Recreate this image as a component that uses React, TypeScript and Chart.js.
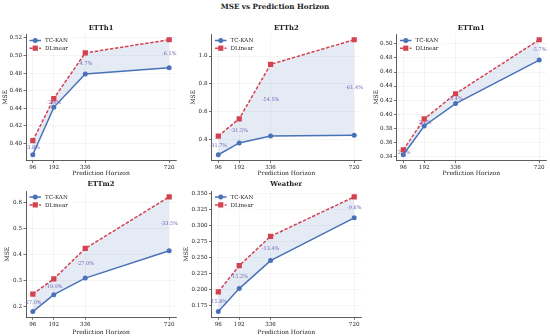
import React, { useEffect, useRef } from "react";
import { Chart, registerables } from "chart.js";

Chart.register(...registerables);

// ---------------- data ----------------
const horizons = [96, 192, 336, 720];

const etth1TcKan = [0.387, 0.441, 0.479, 0.486];
const etth1DLinear = [0.403, 0.451, 0.503, 0.518];
const etth1Pct = ["-3.8%", "-2.4%", "-4.7%", "-6.1%"];
const etth1Ticks = [0.4, 0.42, 0.44, 0.46, 0.48, 0.5, 0.52];

const etth2TcKan = [0.289, 0.374, 0.424, 0.429];
const etth2DLinear = [0.423, 0.548, 0.94, 1.117];
const etth2Pct = ["-31.7%", "-31.5%", "-54.5%", "-61.4%"];
const etth2Ticks = [0.4, 0.6, 0.8, 1.0];

const ettm1TcKan = [0.342, 0.383, 0.415, 0.477];
const ettm1DLinear = [0.349, 0.393, 0.429, 0.506];
const ettm1Pct = ["-2.1%", "-2.6%", "-3.4%", "-5.7%"];
const ettm1Ticks = [0.34, 0.36, 0.38, 0.4, 0.42, 0.44, 0.46, 0.48, 0.5];

const ettm2TcKan = [0.18, 0.245, 0.309, 0.414];
const ettm2DLinear = [0.247, 0.306, 0.423, 0.622];
const ettm2Pct = ["-27.0%", "-19.9%", "-27.0%", "-33.5%"];
const ettm2Ticks = [0.2, 0.3, 0.4, 0.5, 0.6];

const weatherTcKan = [0.165, 0.201, 0.245, 0.312];
const weatherDLinear = [0.196, 0.237, 0.283, 0.345];
const weatherPct = ["-15.8%", "-15.2%", "-13.4%", "-9.6%"];
const weatherTicks = [0.175, 0.2, 0.225, 0.25, 0.275, 0.3, 0.325, 0.35];

// ---------------- styles ----------------
const FONT = '"DejaVu Serif", "Liberation Serif", serif';
const BLUE = "#4a72b8";
const RED = "#d3434f";
const FILL = "rgba(74,114,184,0.14)";
const PCT_COLOR = "#6e5fb8";
const TEXT = "#222222";

type Panel = {
  title: string;
  tc: number[];
  dl: number[];
  pct: string[];
  ticks: number[];
  dec: number;
  left: number;
  top: number;
  w: number;
  h: number;
  axisW: number;
  padR: number;
  yTitleX: number;
  row: number;
};

const panels: Panel[] = [
  { title: "ETTh1", tc: etth1TcKan, dl: etth1DLinear, pct: etth1Pct, ticks: etth1Ticks, dec: 2, left: 0, top: 0, w: 183, h: 178, axisW: 26, padR: 7, yTitleX: 5.7, row: 0 },
  { title: "ETTh2", tc: etth2TcKan, dl: etth2DLinear, pct: etth2Pct, ticks: etth2Ticks, dec: 1, left: 183, top: 0, w: 185, h: 178, axisW: 28.5, padR: 7, yTitleX: 10.3, row: 0 },
  { title: "ETTm1", tc: ettm1TcKan, dl: ettm1DLinear, pct: ettm1Pct, ticks: ettm1Ticks, dec: 2, left: 368, top: 0, w: 182, h: 178, axisW: 28.5, padR: 3, yTitleX: 8.7, row: 0 },
  { title: "ETTm2", tc: ettm2TcKan, dl: ettm2DLinear, pct: ettm2Pct, ticks: ettm2Ticks, dec: 1, left: 0, top: 178, w: 183, h: 158, axisW: 26, padR: 7, yTitleX: 7.3, row: 1 },
  { title: "Weather", tc: weatherTcKan, dl: weatherDLinear, pct: weatherPct, ticks: weatherTicks, dec: 3, left: 183, top: 178, w: 185, h: 158, axisW: 28.5, padR: 7, yTitleX: 3.7, row: 1 },
];

const rows = [
  { titleT: 24.2, titleB: 0.2, xScaleH: 17.5, xTitlePB: 1.1, legendRows: [6.5, 14.2] },
  { titleT: 2.6, titleB: 0.9, xScaleH: 18.7, xTitlePB: 0.1, legendRows: [5.9, 13.8] },
];

function drawMarker(ctx: CanvasRenderingContext2D, style: string, x: number, y: number, color: string) {
  ctx.fillStyle = color;
  ctx.beginPath();
  if (style === "circle") {
    ctx.arc(x, y, 2.5, 0, Math.PI * 2);
  } else {
    ctx.rect(x - 2.6, y - 2.6, 5.2, 5.2);
  }
  ctx.fill();
}

function PanelChart({ p }: { p: Panel }) {
  const ref = useRef<HTMLCanvasElement | null>(null);
  useEffect(() => {
    if (!ref.current) return;
    const r = rows[p.row];
    const all = [...p.tc, ...p.dl];
    const lo = Math.min(...all);
    const hi = Math.max(...all);
    const ym = (hi - lo) * 0.05;
    const xm = (horizons[horizons.length - 1] - horizons[0]) * 0.05;

    const overlay = {
      id: "overlay",
      beforeDatasetsDraw(chart: any) {
        const ctx = chart.ctx as CanvasRenderingContext2D;
        const xs = chart.scales.x;
        const ys = chart.scales.y;
        ctx.save();
        ctx.font = `5px ${FONT}`;
        ctx.fillStyle = PCT_COLOR;
        ctx.textAlign = "center";
        ctx.textBaseline = "middle";
        horizons.forEach((h, i) => {
          const x = xs.getPixelForValue(h);
          const y = ys.getPixelForValue((p.tc[i] + p.dl[i]) / 2);
          ctx.fillText(p.pct[i], x, y);
        });
        ctx.restore();
      },
      afterDraw(chart: any) {
        const ctx = chart.ctx as CanvasRenderingContext2D;
        const ca = chart.chartArea;
        ctx.save();
        ctx.fillStyle = "rgba(255,255,255,0.8)";
        ctx.fillRect(ca.left + 1.5, ca.top + 1.5, 46, 17);
        const items = [
          { label: "TC-KAN", color: BLUE, dash: [] as number[], style: "circle" },
          { label: "DLinear", color: RED, dash: [3.2, 1.6], style: "rect" },
        ];
        items.forEach((it, i) => {
          const y = ca.top + r.legendRows[i];
          const x0 = ca.left + 3.5;
          ctx.strokeStyle = it.color;
          ctx.lineWidth = 1.5;
          ctx.setLineDash(it.dash);
          ctx.beginPath();
          ctx.moveTo(x0, y);
          ctx.lineTo(x0 + 11.5, y);
          ctx.stroke();
          ctx.setLineDash([]);
          drawMarker(ctx, it.style, x0 + 5.75, y, it.color);
          ctx.fillStyle = TEXT;
          ctx.font = `5.6px ${FONT}`;
          ctx.textAlign = "left";
          ctx.textBaseline = "middle";
          ctx.fillText(it.label, ca.left + 19, y + 0.3);
        });
        ctx.restore();
      },
    };

    const tickFont = { family: FONT, size: 5.6, lineHeight: 1.2 };
    const labelFont = { family: FONT, size: 6, lineHeight: 1.2 };

    const chart = new Chart(ref.current, {
      type: "line",
      data: {
        datasets: [
          {
            label: "TC-KAN",
            data: horizons.map((h, i) => ({ x: h, y: p.tc[i] })),
            borderColor: BLUE,
            backgroundColor: BLUE,
            borderWidth: 1.5,
            pointStyle: "circle",
            pointRadius: 2.5,
            pointBackgroundColor: BLUE,
            pointBorderColor: BLUE,
            pointBorderWidth: 0,
            fill: false,
            tension: 0,
          },
          {
            label: "DLinear",
            data: horizons.map((h, i) => ({ x: h, y: p.dl[i] })),
            borderColor: RED,
            backgroundColor: FILL,
            borderWidth: 1.5,
            borderDash: [3.4, 1.7],
            pointStyle: "rect",
            pointRadius: 3.7,
            pointBackgroundColor: RED,
            pointBorderColor: RED,
            pointBorderWidth: 0,
            fill: { target: 0, above: FILL, below: FILL },
            tension: 0,
          },
        ],
      } as any,
      options: {
        responsive: false,
        animation: false,
        devicePixelRatio: 1,
        layout: { padding: { left: 0, right: p.padR, top: 0, bottom: 0 } },
        plugins: {
          legend: { display: false },
          tooltip: { enabled: false },
          filler: { drawTime: "beforeDatasetsDraw" },
          title: {
            display: true,
            text: p.title,
            fullSize: false,
            color: TEXT,
            font: { family: FONT, size: 6.8, weight: "bold", lineHeight: 1.2 },
            padding: { top: r.titleT, bottom: r.titleB + (9.6 - 6.8 * 1.2) },
          },
        } as any,
        scales: {
          x: {
            type: "linear",
            min: horizons[0] - xm,
            max: horizons[horizons.length - 1] + xm,
            afterBuildTicks: (s: any) => {
              s.ticks = horizons.map((v) => ({ value: v }));
            },
            afterFit: (s: any) => {
              s.height = r.xScaleH;
            },
            ticks: {
              font: tickFont,
              color: TEXT,
              padding: 1.3,
              maxRotation: 0,
              autoSkip: false,
              callback: (v: any) => String(v),
            },
            grid: {
              color: "rgba(0,0,0,0.07)",
              lineWidth: 0.6,
              tickLength: 2.5,
              tickColor: "#333",
              tickWidth: 0.7,
            },
            border: { display: true, color: "#333", width: 0.8 },
            title: {
              display: true,
              text: "Prediction Horizon",
              color: TEXT,
              font: labelFont,
              padding: { top: 0, bottom: r.xTitlePB },
            },
          },
          y: {
            type: "linear",
            min: lo - ym,
            max: hi + ym,
            afterBuildTicks: (s: any) => {
              s.ticks = p.ticks.map((v) => ({ value: v }));
            },
            afterFit: (s: any) => {
              s.width = p.axisW;
            },
            ticks: {
              font: tickFont,
              color: TEXT,
              padding: 1.5,
              callback: (v: any) => Number(v).toFixed(p.dec),
            },
            grid: {
              color: "rgba(0,0,0,0.07)",
              lineWidth: 0.6,
              tickLength: 2.5,
              tickColor: "#333",
              tickWidth: 0.7,
            },
            border: { display: true, color: "#333", width: 0.8 },
            title: {
              display: true,
              text: "MSE",
              color: TEXT,
              font: labelFont,
              padding: { top: Math.max(0, p.yTitleX - (6 * 1.2) / 2), bottom: 0 },
            },
          },
        },
      } as any,
      plugins: [overlay],
    });
    return () => chart.destroy();
  }, [p]);

  return (
    <canvas
      ref={ref}
      width={p.w}
      height={p.h}
      style={{ position: "absolute", left: p.left, top: p.top, width: p.w, height: p.h }}
    />
  );
}

export default function App() {
  useEffect(() => {
    document.body.style.margin = "0";
  }, []);
  return (
    <div
      style={{
        position: "absolute",
        left: 0,
        top: 0,
        width: 550,
        height: 336,
        background: "#ffffff",
        overflow: "hidden",
      }}
    >
      <div
        style={{
          position: "absolute",
          left: 0,
          top: 0.5,
          width: 550,
          textAlign: "center",
          fontFamily: FONT,
          fontWeight: "bold",
          fontSize: "7.2px",
          lineHeight: "12px",
          color: TEXT,
        }}
      >
        MSE vs Prediction Horizon
      </div>
      {panels.map((p) => (
        <PanelChart key={p.title} p={p} />
      ))}
    </div>
  );
}
